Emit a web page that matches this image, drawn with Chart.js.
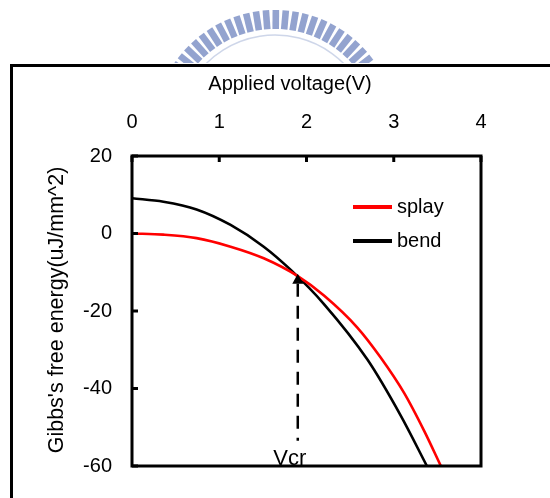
<!DOCTYPE html>
<html>
<head>
<meta charset="utf-8">
<script src="https://cdn.jsdelivr.net/npm/chart.js@4"></script>
<style>
  html, body { margin: 0; padding: 0; background: #fff; }
  #wrap { width: 550px; height: 498px; }
</style>
</head>
<body>
<div id="wrap"><canvas id="gibbsChart"></canvas></div>
<script>
// data
const splayVoltage = [0, 0.36, 0.74, 1.13, 1.51, 1.9, 2.2, 2.58, 2.85, 3.12, 3.35, 3.54];
const splayEnergy = [0, -0.3, -1.2, -3.4, -6.4, -11, -16, -24.2, -32, -41.2, -51, -60];
const bendVoltage = [0, 0.36, 0.74, 1.13, 1.51, 1.82, 2.2, 2.7, 3.08, 3.38];
const bendEnergy = [9.1, 8.2, 6.2, 2.2, -3.4, -9.4, -18.2, -32.6, -47, -60];
const xTicks = [0, 1, 2, 3, 4];
const yTicks = [20, 0, -20, -40, -60];
const seriesNames = ["splay", "bend"];
const seriesColors = ["#ff0000", "#000000"];
const xTitle = "Applied voltage(V)";
const yTitle = "Gibbs's free energy(uJ/mm^2)";
// critical voltage marker
const vcr = 1.9;
const arrowTop = -10.4;
const arrowBottom = -53.5;

const FONT = "'Liberation Sans', Arial, sans-serif";

function toPoints(xs, ys) {
  return xs.map((x, i) => ({ x: x, y: ys[i] }));
}

// blue watermark, frame, box, inward ticks, legend and Vcr arrow
const decorations = {
  id: "decorations",
  beforeDraw(chart) {
    const c = chart.ctx;
    c.save();
    c.fillStyle = "#fff";
    c.fillRect(0, 0, chart.width, chart.height);
    // watermark arc
    c.beginPath();
    c.rect(0, 0, chart.width, 63);
    c.clip();
    const cx = 275, cy = 132;
    c.fillStyle = "#93a3cf";
    for (let a = -56; a <= 56; a += 4.7) {
      c.save();
      c.translate(cx, cy);
      c.rotate(a * Math.PI / 180);
      c.fillRect(-3.3, -122, 6.6, 19);
      c.restore();
    }
    c.strokeStyle = "rgba(147,163,207,0.45)";
    c.lineWidth = 1.5;
    c.beginPath();
    c.arc(cx, cy, 97, Math.PI * 1.2, Math.PI * 1.8);
    c.stroke();
    c.restore();
  },
  afterDatasetsDraw(chart) {
    const c = chart.ctx;
    const a = chart.chartArea;
    const xs = chart.scales.x, ys = chart.scales.y;
    c.save();
    c.strokeStyle = "#000";
    c.fillStyle = "#000";
    c.lineCap = "butt";
    // outer frame
    c.lineWidth = 3;
    c.beginPath();
    c.moveTo(11.5, chart.height);
    c.lineTo(11.5, 65.5);
    c.lineTo(chart.width, 65.5);
    c.stroke();
    // plot box
    c.strokeRect(a.left, a.top, a.right - a.left, a.bottom - a.top);
    // inward ticks
    xTicks.forEach(v => {
      const px = xs.getPixelForValue(v);
      c.beginPath();
      c.moveTo(px, a.top);
      c.lineTo(px, a.top + 6);
      c.stroke();
    });
    yTicks.forEach(v => {
      const py = ys.getPixelForValue(v);
      c.beginPath();
      c.moveTo(a.left, py);
      c.lineTo(a.left + 6, py);
      c.stroke();
    });
    // axis titles
    c.font = "20px " + FONT;
    c.textAlign = "center";
    c.textBaseline = "middle";
    c.fillText(xTitle, 290, 84);
    c.save();
    c.translate(57, 310);
    c.rotate(-Math.PI / 2);
    c.font = "21.5px " + FONT;
    c.fillText(yTitle, 0, 0);
    c.restore();
    // Vcr arrow
    const vx = xs.getPixelForValue(vcr);
    const tip = ys.getPixelForValue(arrowTop);
    const bottom = ys.getPixelForValue(arrowBottom);
    c.beginPath();
    c.moveTo(vx, tip);
    c.lineTo(vx - 5.5, tip + 10);
    c.lineTo(vx + 5.5, tip + 10);
    c.closePath();
    c.fill();
    c.lineWidth = 2.5;
    c.setLineDash([13, 9]);
    c.beginPath();
    c.moveTo(vx, tip + 10);
    c.lineTo(vx, bottom);
    c.stroke();
    c.setLineDash([]);
    c.font = "22px " + FONT;
    c.textAlign = "center";
    c.textBaseline = "alphabetic";
    c.fillText("Vcr", vx - 8, a.bottom - 1);
    // legend
    c.font = "20px " + FONT;
    c.textAlign = "left";
    c.textBaseline = "middle";
    chart.data.datasets.forEach((ds, i) => {
      const ly = 207 + i * 34;
      c.strokeStyle = ds.borderColor;
      c.lineWidth = 4;
      c.beginPath();
      c.moveTo(353, ly);
      c.lineTo(392, ly);
      c.stroke();
      c.fillText(ds.label, 397, ly);
    });
    c.restore();
  }
};

new Chart(document.getElementById("gibbsChart"), {
  type: "scatter",
  data: {
    datasets: [
      {
        label: seriesNames[0],
        data: toPoints(splayVoltage, splayEnergy),
        borderColor: seriesColors[0],
        backgroundColor: seriesColors[0],
        showLine: true,
        borderWidth: 2.6,
        pointRadius: 0,
        cubicInterpolationMode: "monotone",
      },
      {
        label: seriesNames[1],
        data: toPoints(bendVoltage, bendEnergy),
        borderColor: seriesColors[1],
        backgroundColor: seriesColors[1],
        showLine: true,
        borderWidth: 2.6,
        pointRadius: 0,
        cubicInterpolationMode: "monotone",
      },
    ],
  },
  options: {
    responsive: true,
    maintainAspectRatio: false,
    animation: false,
    layout: { padding: { left: 41, top: 67, right: 69, bottom: 32 } },
    plugins: {
      legend: { display: false },
      tooltip: { enabled: false },
    },
    scales: {
      x: {
        type: "linear",
        position: "top",
        min: 0,
        max: 4,
        afterBuildTicks: s => { s.ticks = xTicks.map(v => ({ value: v })); },
        afterFit: s => { s.height = 89; },
        ticks: { color: "#000", font: { size: 20, family: FONT }, padding: 22, maxRotation: 0 },
        grid: { display: false, drawTicks: false },
        border: { display: false },
        title: { display: false },
      },
      y: {
        type: "linear",
        min: -60,
        max: 20,
        afterBuildTicks: s => { s.ticks = yTicks.map(v => ({ value: v })); },
        afterFit: s => { s.width = 91; },
        ticks: { color: "#000", font: { size: 20, family: FONT }, padding: 20 },
        grid: { display: false, drawTicks: false },
        border: { display: false },
        title: { display: false },
      },
    },
  },
  plugins: [decorations],
});
</script>
</body>
</html>
